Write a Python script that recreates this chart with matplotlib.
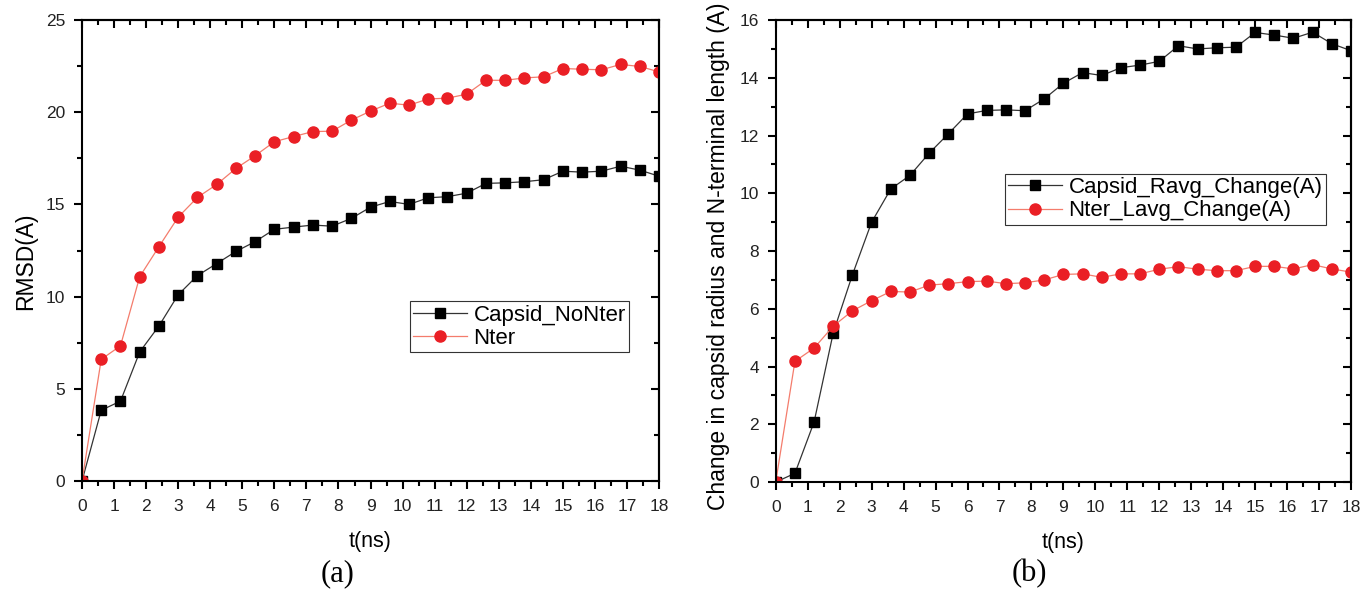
import numpy as np
import matplotlib
matplotlib.use("Agg")
import matplotlib.pyplot as plt
from matplotlib.ticker import MultipleLocator

plt.rcParams["font.family"] = ["Liberation Sans", "DejaVu Sans"]

# time axis (ns), one sample every 0.6 ns
t_ns = [0.0, 0.6, 1.2, 1.8, 2.4, 3.0, 3.6, 4.2, 4.8, 5.4, 6.0, 6.6, 7.2, 7.8, 8.4, 9.0,
        9.6, 10.2, 10.8, 11.4, 12.0, 12.6, 13.2, 13.8, 14.4, 15.0, 15.6, 16.2, 16.8, 17.4, 18.0]

# panel (a): RMSD
capsid_nonter = [0.0, 3.84, 4.33, 7.0, 8.41, 10.1, 11.14, 11.79, 12.45, 12.98, 13.65, 13.77,
                 13.88, 13.82, 14.24, 14.85, 15.16, 15.0, 15.36, 15.42, 15.61, 16.14, 16.17,
                 16.23, 16.34, 16.8, 16.75, 16.8, 17.07, 16.86, 16.53]
nter = [0.0, 6.6, 7.33, 11.08, 12.71, 14.31, 15.38, 16.08, 16.95, 17.64, 18.4, 18.68, 18.95,
        18.97, 19.57, 20.06, 20.49, 20.38, 20.72, 20.76, 20.98, 21.73, 21.73, 21.86, 21.92,
        22.37, 22.33, 22.3, 22.59, 22.48, 22.19]

# panel (b): change in capsid radius / N-terminal length
capsid_ravg = [0.0, 0.3, 2.08, 5.17, 7.18, 9.0, 10.15, 10.62, 11.39, 12.06, 12.75, 12.87,
               12.89, 12.86, 13.27, 13.81, 14.18, 14.08, 14.35, 14.44, 14.57, 15.11, 15.0,
               15.04, 15.06, 15.57, 15.48, 15.37, 15.58, 15.18, 14.94]
nter_lavg = [0.0, 4.18, 4.64, 5.4, 5.93, 6.28, 6.6, 6.58, 6.82, 6.87, 6.94, 6.96, 6.87, 6.9,
             7.0, 7.19, 7.21, 7.09, 7.21, 7.21, 7.37, 7.46, 7.37, 7.32, 7.32, 7.47, 7.47,
             7.38, 7.53, 7.38, 7.27]

fig = plt.figure(figsize=(13.6, 5.9), dpi=100)
ax_a = fig.add_axes([0.0603, 0.1847, 0.4243, 0.7814])
ax_b = fig.add_axes([0.5704, 0.1830, 0.4230, 0.7830])


def style_axes(ax, ymax, ymajor, yminor):
    ax.set_xlim(0, 18)
    ax.set_ylim(0, ymax)
    ax.xaxis.set_major_locator(MultipleLocator(1))
    ax.xaxis.set_minor_locator(MultipleLocator(0.5))
    ax.yaxis.set_major_locator(MultipleLocator(ymajor))
    ax.yaxis.set_minor_locator(MultipleLocator(yminor))
    for s in ax.spines.values():
        s.set_linewidth(1.5)
    ax.tick_params(which="major", direction="out", length=6, width=1.5,
                   labelsize=12.5, labelcolor="#222222")
    ax.tick_params(axis="x", which="major", pad=7)
    ax.tick_params(axis="y", which="major", pad=6)
    ax.tick_params(which="minor", direction="out", length=3.5, width=1.5)
    # mirrored ticks pointing inward on top and right
    top = ax.secondary_xaxis("top")
    top.xaxis.set_major_locator(MultipleLocator(1))
    top.xaxis.set_minor_locator(MultipleLocator(0.5))
    top.tick_params(which="major", direction="in", length=6, width=1.5, labeltop=False)
    top.tick_params(which="minor", direction="in", length=3.5, width=1.5)
    top.spines["top"].set_linewidth(1.5)
    right = ax.secondary_yaxis("right")
    right.yaxis.set_major_locator(MultipleLocator(ymajor))
    right.yaxis.set_minor_locator(MultipleLocator(yminor))
    right.tick_params(which="major", direction="in", length=6, width=1.5, labelright=False)
    right.tick_params(which="minor", direction="in", length=3.5, width=1.5)
    right.spines["right"].set_linewidth(1.5)


def draw(ax, black_y, red_y, black_lbl, red_lbl):
    ax.plot(t_ns, black_y, color="#333333", lw=0.9, marker="s", ms=7,
            mfc="black", mec="black", label=black_lbl)
    ax.plot(t_ns, red_y, color="#f47c6c", lw=0.9, marker="o", ms=8,
            mfc="#ea1f25", mec="#ea1f25", label=red_lbl)


def add_legend(ax, anchor):
    leg = ax.legend(loc="upper right", bbox_to_anchor=anchor, borderaxespad=0,
                    fancybox=False, edgecolor="#333333", framealpha=1, fontsize=16,
                    handlelength=2.4, handletextpad=0.3, borderpad=0.15,
                    labelspacing=0.1)
    leg.get_frame().set_linewidth(0.8)


draw(ax_a, capsid_nonter, nter, "Capsid_NoNter", "Nter")
style_axes(ax_a, 25, 5, 2.5)
ax_a.set_xlabel("t(ns)", fontsize=15.5, labelpad=12)
ax_a.set_ylabel("RMSD(A)", fontsize=16.5)
ax_a.yaxis.set_label_coords(-0.077, 0.476)
add_legend(ax_a, (0.948, 0.39))

draw(ax_b, capsid_ravg, nter_lavg, "Capsid_Ravg_Change(A)", "Nter_Lavg_Change(A)")
style_axes(ax_b, 16, 2, 1)
ax_b.set_xlabel("t(ns)", fontsize=15.5, labelpad=12)
ax_b.set_ylabel("Change in capsid radius and N-terminal length (A)", fontsize=16.5)
ax_b.yaxis.set_label_coords(-0.079, 0.488)
add_legend(ax_b, (0.956, 0.667))

fig.text(0.248, 0.027, "(a)", fontsize=22, family="Liberation Serif", ha="center", va="center")
fig.text(0.757, 0.027, "(b)", fontsize=22, family="Liberation Serif", ha="center", va="center")

fig.savefig("out.png", dpi=100)
